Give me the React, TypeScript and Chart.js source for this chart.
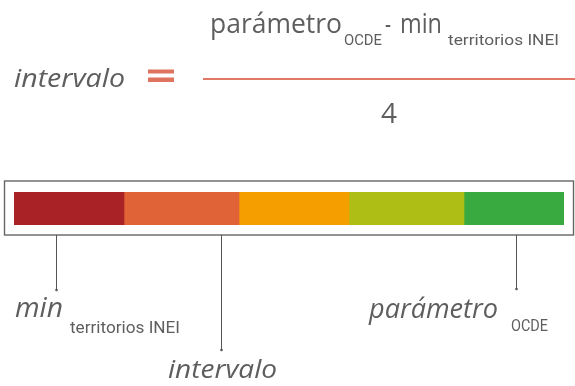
import React, { useEffect, useRef } from "react";
import { Chart, registerables } from "chart.js";

Chart.register(...registerables);

// Segments of the colour scale (widths in scale units)
const segmentNames = ["1", "2", "3", "4", "5"];
const segmentWidths = [110, 115, 110, 115, 100];
const segmentColors = ["#A92326", "#E06337", "#F59E00", "#AFBE14", "#39AA40"];
// Where the leader lines point on the scale
const pointerValues = [42, 207, 502];
const pointerEnds = [290, 350, 289];

const GRAY = "#5e5e5e";
const SALMON = "#DE735E";
const SANS = '"Open Sans", "DejaVu Sans", sans-serif';
const NARROW = 'Roboto, "Open Sans", sans-serif';

function fitText(
  ctx: CanvasRenderingContext2D,
  text: string,
  x: number,
  y: number,
  width: number,
  font: string,
  color: string
) {
  ctx.save();
  ctx.font = font;
  ctx.fillStyle = color;
  ctx.textAlign = "left";
  ctx.textBaseline = "alphabetic";
  const w = ctx.measureText(text).width || 1;
  ctx.translate(x, y);
  ctx.scale(width / w, 1);
  ctx.fillText(text, 0, 0);
  ctx.restore();
}

const decorPlugin = {
  id: "decor",
  afterDraw(chart: any) {
    const ctx: CanvasRenderingContext2D = chart.ctx;
    const xs = chart.scales.x;
    ctx.save();

    // outer frame
    ctx.strokeStyle = "#666";
    ctx.lineWidth = 1.4;
    ctx.strokeRect(4.5, 181, 569, 54);

    // leader lines
    ctx.strokeStyle = "#555";
    ctx.fillStyle = "#555";
    ctx.lineWidth = 1;
    pointerValues.forEach((v, i) => {
      const px = Math.round(xs.getPixelForValue(v)) + 0.5;
      ctx.beginPath();
      ctx.moveTo(px, 235);
      ctx.lineTo(px, pointerEnds[i]);
      ctx.stroke();
      ctx.beginPath();
      ctx.arc(px, pointerEnds[i], 1.3, 0, Math.PI * 2);
      ctx.fill();
    });

    // formula
    fitText(ctx, "intervalo", 14, 87, 111, `italic 25px ${SANS}`, GRAY);
    ctx.fillStyle = SALMON;
    ctx.fillRect(148, 69.5, 26, 4);
    ctx.fillRect(148, 77.5, 26, 4.5);
    ctx.fillStyle = "#E07A66";
    ctx.fillRect(203, 78, 372, 2);

    fitText(ctx, "parámetro", 210, 33, 132, `27px ${SANS}`, GRAY);
    fitText(ctx, "OCDE", 344, 45, 38, `15px ${NARROW}`, GRAY);
    fitText(ctx, "-", 385, 33, 6, `27px ${SANS}`, GRAY);
    fitText(ctx, "min", 400, 33, 42, `27px ${SANS}`, GRAY);
    fitText(ctx, "territorios INEI", 448, 45, 111, `15px ${NARROW}`, GRAY);
    fitText(ctx, "4", 381, 123, 16, `27px ${SANS}`, GRAY);

    // labels
    fitText(ctx, "min", 15, 317, 48, `italic 27px ${SANS}`, GRAY);
    fitText(ctx, "territorios INEI", 70, 333, 110, `16px ${NARROW}`, GRAY);
    fitText(ctx, "parámetro", 369, 318, 129, `italic 27px ${SANS}`, GRAY);
    fitText(ctx, "OCDE", 511, 331, 37, `16px ${NARROW}`, GRAY);
    fitText(ctx, "intervalo", 168, 378, 109, `italic 25px ${SANS}`, GRAY);

    ctx.restore();
  },
};

export default function App() {
  const ref = useRef<HTMLCanvasElement>(null);
  useEffect(() => {
    document.body.style.margin = "0";
    const canvas = ref.current!;
    const chart = new Chart(canvas, {
      type: "bar",
      data: {
        labels: ["escala"],
        datasets: segmentWidths.map((w, i) => ({
          label: segmentNames[i],
          data: [w],
          backgroundColor: segmentColors[i],
          borderWidth: 0,
          barPercentage: 1,
          categoryPercentage: 1,
        })),
      },
      options: {
        indexAxis: "y",
        responsive: false,
        animation: false,
        devicePixelRatio: 1,
        layout: { padding: { left: 14, right: 11, top: 192, bottom: 161 } },
        plugins: {
          legend: { display: false },
          tooltip: { enabled: false },
        },
        scales: {
          x: {
            stacked: true,
            min: 0,
            max: 550,
            display: false,
          },
          y: { stacked: true, display: false },
        },
      },
      plugins: [decorPlugin],
    });
    return () => chart.destroy();
  }, []);
  return (
    <div style={{ position: "absolute", left: 0, top: 0, width: 575, height: 386, background: "#fff" }}>
      <canvas ref={ref} width={575} height={386} style={{ display: "block" }} />
    </div>
  );
}
